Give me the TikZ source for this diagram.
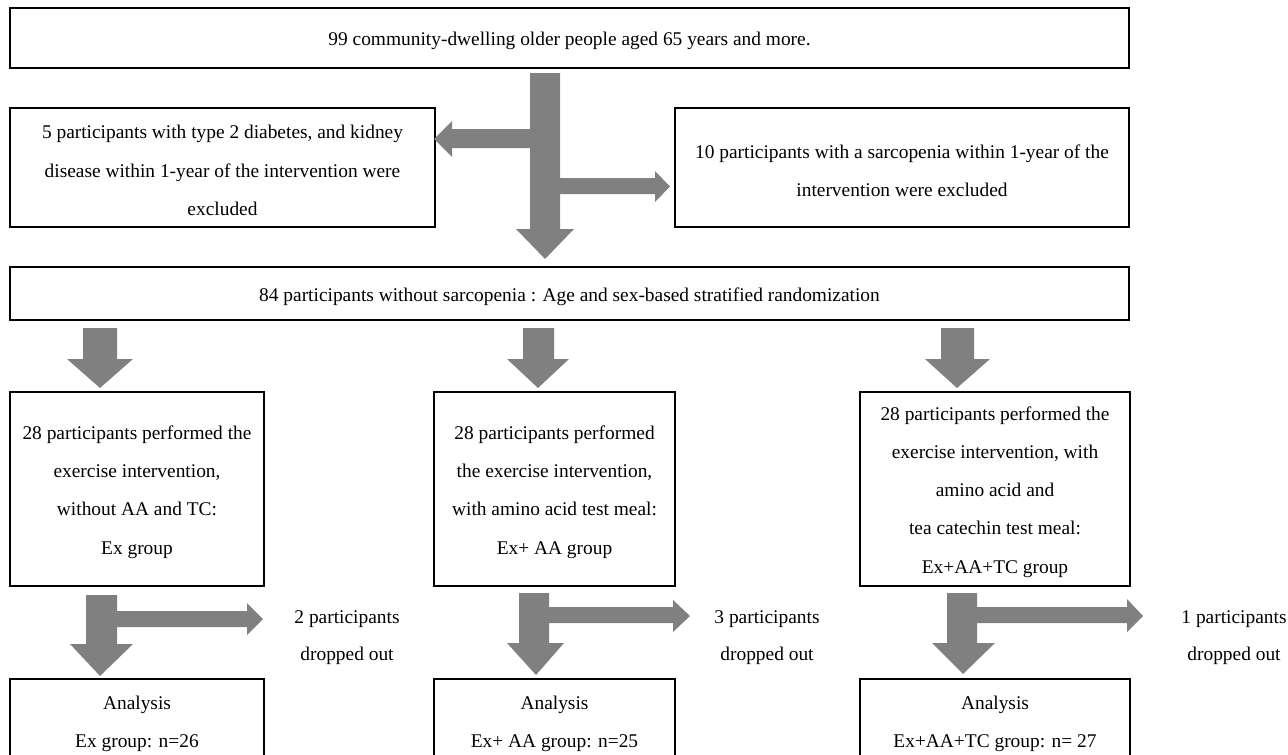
\documentclass[tikz,border=0pt]{standalone}
\usepackage{fontspec}
\setmainfont{Liberation Serif}
\newcommand\tupad{\rule{0pt}{19.5pt}}
\begin{document}
\begin{tikzpicture}[x=1pt,y=-1pt,
  box/.style={draw=black, line width=1.6pt, rectangle, inner sep=0pt, align=center,
    font=\fontsize{19.4}{38.3}\selectfont},
  txt/.style={inner sep=0pt, align=center, font=\fontsize{19.4}{37.5}\selectfont},
  blockarrow/.style={fill=black!50, draw=none}]
\useasboundingbox (0,0) rectangle (1288,755);
\clip (0,0) rectangle (1288,755);
% boxes
\node[box, minimum width=1119pt, minimum height=60pt] (top) at (569.5,38) {\tupad 99 community-dwelling older people aged 65 years and more.};
\node[box, minimum width=425pt, minimum height=119pt] (exL) at (222.5,167.5) {\tupad 5 participants with type 2 diabetes, and kidney\\disease within 1-year of the intervention were\\excluded};
\node[box, minimum width=454pt, minimum height=119pt] (exR) at (902,167.5) {\tupad 10 participants with a sarcopenia within 1-year of the\\intervention were excluded};
\node[box, minimum width=1119pt, minimum height=53pt] (rand) at (569.5,293.5) {\tupad 84 participants without sarcopenia : Age and sex-based stratified randomization};
\node[box, minimum width=254pt, minimum height=194pt] (g1) at (137,489) {\tupad 28 participants performed the\\exercise intervention,\\without AA and TC:\\Ex group};
\node[box, minimum width=241pt, minimum height=194pt] (g2) at (554.5,489) {\tupad 28 participants performed\\the exercise intervention,\\with amino acid test meal:\\Ex+ AA group};
\node[box, minimum width=270pt, minimum height=194pt] (g3) at (995,489) {\tupad 28 participants performed the\\exercise intervention, with\\amino acid and\\tea catechin test meal:\\Ex+AA+TC group};
\node[box, minimum width=254pt, minimum height=140pt, anchor=north] (a1) at (137,678) {};
\node[box, minimum width=241pt, minimum height=140pt, anchor=north] (a2) at (554.5,678) {};
\node[box, minimum width=270pt, minimum height=140pt, anchor=north] (a3) at (995,678) {};
\node[txt] (a1t) at (137,724) {Analysis\\Ex group: n=26};
\node[txt] (a2t) at (554.5,724) {Analysis\\Ex+ AA group: n=25};
\node[txt] (a3t) at (995,724) {Analysis\\Ex+AA+TC group: n= 27};
\node[txt] (d1) at (347,637.5) {2 participants\\dropped out};
\node[txt] (d2) at (767,637.5) {3 participants\\dropped out};
\node[txt] (d3) at (1234,637.5) {1 participants\\dropped out};
% top cross arrow
\fill[blockarrow] (530,73) -- (560,73) -- (560,178) -- (655,178) -- (655,171) -- (670,186.5) -- (655,202) -- (655,194) -- (560,194) -- (560,229) -- (574,229) -- (545,259) -- (516,229) -- (530,229) -- (530,148) -- (452,148) -- (452,157) -- (434,139) -- (452,121) -- (452,129) -- (530,129) -- cycle;
% randomization arrows
\fill[blockarrow] (83,328) -- (117,328) -- (117,359) -- (133,359) -- (100,388) -- (67,359) -- (83,359) -- cycle;
\fill[blockarrow] (523,328) -- (554,328) -- (554,359) -- (569,359) -- (538,388) -- (507,359) -- (523,359) -- cycle;
\fill[blockarrow] (941,328) -- (974,328) -- (974,359) -- (990,359) -- (957,388) -- (925,359) -- (941,359) -- cycle;
% bottom T arrows
\fill[blockarrow] (86,595) -- (117,595) -- (117,611) -- (247,611) -- (247,603) -- (263,619) -- (247,635) -- (247,627) -- (117,627) -- (117,644) -- (133,644) -- (100,676) -- (70,644) -- (86,644) -- cycle;
\fill[blockarrow] (519,593) -- (549,593) -- (549,607) -- (673,607) -- (673,600) -- (690,616) -- (673,632) -- (673,623) -- (549,623) -- (549,643) -- (564,643) -- (536,675) -- (507,643) -- (519,643) -- cycle;
\fill[blockarrow] (947,593) -- (977,593) -- (977,607) -- (1127,607) -- (1127,599) -- (1143,616) -- (1127,632) -- (1127,623) -- (977,623) -- (977,643) -- (995,643) -- (963,674) -- (932,643) -- (947,643) -- cycle;
\end{tikzpicture}
\end{document}
